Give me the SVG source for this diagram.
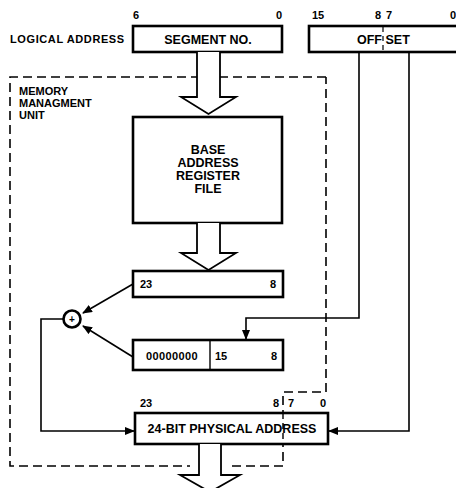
<svg xmlns="http://www.w3.org/2000/svg" width="456" height="488" viewBox="0 0 456 488">
<defs>
<style>
text{font-family:"Liberation Sans",Arial,sans-serif;font-weight:bold;fill:#000}
.lbl{font-size:11px}
.big{font-size:12.5px}
.num{font-size:11px}
.box{fill:#fff;stroke:#000;stroke-width:2.6}
.thin{fill:none;stroke:#000;stroke-width:1.6}
.dash{fill:none;stroke:#000;stroke-width:1.6;stroke-dasharray:9,5}
.fat{fill:#fff;stroke:#000;stroke-width:1.8;stroke-linejoin:miter}
</style>
<marker id="ah" markerWidth="10" markerHeight="8" refX="9" refY="4" orient="auto" markerUnits="userSpaceOnUse">
<path d="M0,0 L10,4 L0,8 Z" fill="#000"/>
</marker>
</defs>

<g id="mmu-boundary">
<path class="dash" d="M326,77 L10,77 L10,466 L190,466"/>
<path class="dash" d="M232,466 L283,466 L283,392 L326,392 L326,77"/>
<text class="lbl" x="19" y="95">MEMORY</text>
<text class="lbl" x="19" y="107">MANAGMENT</text>
<text class="lbl" x="19" y="119">UNIT</text>
</g>

<g id="logical-address">
<text class="lbl" x="10" y="43" letter-spacing="0.6">LOGICAL ADDRESS</text>
</g>

<g id="segment-no">
<rect class="box" x="133" y="26" width="149" height="26"/>
<text class="big" x="208" y="44" text-anchor="middle">SEGMENT NO.</text>
<text class="num" x="136" y="19" text-anchor="middle">6</text>
<text class="num" x="279" y="19" text-anchor="middle">0</text>
</g>

<g id="offset">
<rect class="box" x="309" y="26" width="150" height="26" stroke-width="2"/>
<line x1="383" y1="27" x2="383" y2="51" stroke="#000" stroke-width="1.2" stroke-dasharray="5,4"/>
<text class="big" x="357" y="44">OFF SET</text>
<text class="num" x="318" y="19" text-anchor="middle">15</text>
<text class="num" x="378" y="19" text-anchor="middle">8</text>
<text class="num" x="389" y="19" text-anchor="middle">7</text>
<text class="num" x="453" y="19" text-anchor="middle">0</text>
</g>

<g id="base-address-register-file">
<rect class="box" x="133" y="117" width="149" height="106"/>
<text class="big" x="208" y="154" text-anchor="middle">BASE</text>
<text class="big" x="208" y="167" text-anchor="middle">ADDRESS</text>
<text class="big" x="208" y="180" text-anchor="middle">REGISTER</text>
<text class="big" x="208" y="193" text-anchor="middle">FILE</text>
</g>

<g id="base-register">
<rect class="box" x="133" y="271" width="150" height="26"/>
<text class="num" x="140" y="288">23</text>
<text class="num" x="276" y="288" text-anchor="end">8</text>
</g>

<g id="offset-register">
<rect class="box" x="133" y="340" width="150" height="30"/>
<line x1="210" y1="340" x2="210" y2="370" stroke="#000" stroke-width="1.4"/>
<text class="num" x="172" y="359.5" text-anchor="middle" letter-spacing="0.4">00000000</text>
<text class="num" x="215" y="359.5">15</text>
<text class="num" x="277" y="359.5" text-anchor="end">8</text>
</g>

<g id="adder">
<circle cx="72" cy="319" r="8.5" fill="#fff" stroke="#000" stroke-width="2.6"/>
<text x="72" y="322.5" font-size="10" text-anchor="middle">+</text>
</g>

<g id="physical-address">
<rect class="box" x="135" y="413" width="193" height="31"/>
<line x1="283" y1="413" x2="283" y2="444" stroke="#000" stroke-width="1.4" stroke-dasharray="6,4"/>
<text class="big" x="232" y="433" text-anchor="middle">24-BIT PHYSICAL ADDRESS</text>
<text class="num" x="146" y="407" text-anchor="middle">23</text>
<text class="num" x="276" y="407" text-anchor="middle">8</text>
<text class="num" x="291" y="407" text-anchor="middle">7</text>
<text class="num" x="323" y="407" text-anchor="middle">0</text>
</g>

<g id="connectors">
<path class="fat" d="M197,52 L197,97 L181,97 L208.5,114 L236,97 L220,97 L220,52"/>
<path class="fat" d="M197,223 L197,253 L181,253 L208.5,270 L236,253 L220,253 L220,223"/>
<path class="fat" d="M199,444 L199,475 L180,475 L210,492 L240,475 L221,475 L221,444"/>
<line class="thin" x1="133" y1="284" x2="83" y2="313" marker-end="url(#ah)"/>
<line class="thin" x1="133" y1="357" x2="83" y2="326" marker-end="url(#ah)"/>
<path class="thin" d="M63.5,319 L41,319 L41,431 L134,431" marker-end="url(#ah)"/>
<path class="thin" d="M359,52 L359,318 L246,318 L246,339" marker-end="url(#ah)"/>
<path class="thin" d="M409,52 L409,431 L329,431" marker-end="url(#ah)"/>
</g>
</svg>
